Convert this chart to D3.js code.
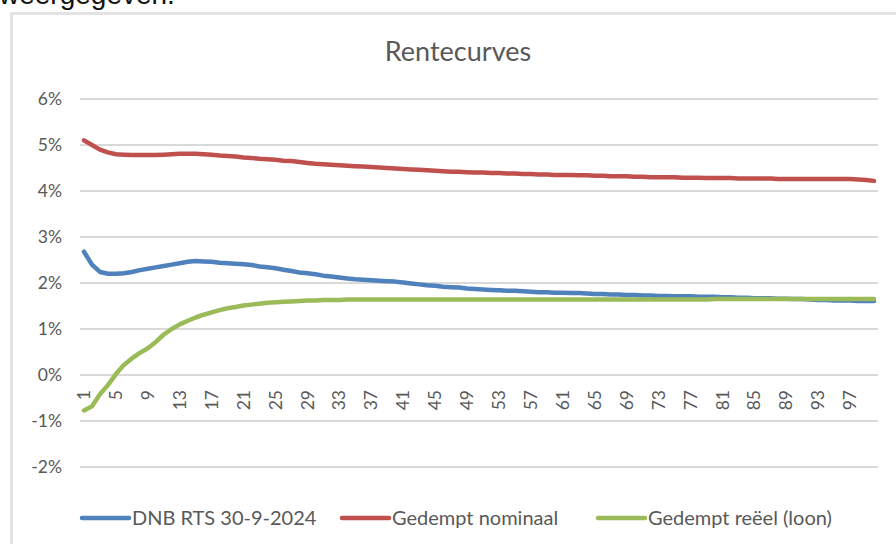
<!DOCTYPE html>
<html>
<head>
<meta charset="utf-8">
<script src="https://cdn.jsdelivr.net/npm/d3@7"></script>
<style>
  html, body { margin: 0; padding: 0; background: #fff; }
  svg { display: block; }
</style>
</head>
<body>
<svg id="chart" width="896" height="544"></svg>
<script>
// looptijden 1..100
const years = d3.range( 1, 101 );
const xTickLabels = years.filter( d => ( d - 1 ) % 4 === 0 );
const yTicks = [ -2, -1, 0, 1, 2, 3, 4, 5, 6 ];

const seriesNames = [ "DNB RTS 30-9-2024", "Gedempt nominaal", "Gedempt reëel (loon)" ];
const seriesColors = [ "#4f81bd", "#c0504d", "#9bbb59" ];

const dnbRts = [
  2.68, 2.40, 2.24, 2.20, 2.20, 2.21, 2.24, 2.28, 2.31, 2.34,
  2.37, 2.40, 2.43, 2.46, 2.48, 2.47, 2.46, 2.44, 2.43, 2.42,
  2.41, 2.39, 2.36, 2.34, 2.32, 2.29, 2.26, 2.23, 2.21, 2.19,
  2.16, 2.14, 2.12, 2.10, 2.08, 2.07, 2.06, 2.05, 2.04, 2.03,
  2.01, 1.99, 1.97, 1.95, 1.94, 1.92, 1.91, 1.90, 1.88, 1.87,
  1.86, 1.85, 1.84, 1.83, 1.83, 1.82, 1.81, 1.80, 1.80, 1.79,
  1.79, 1.78, 1.78, 1.77, 1.76, 1.76, 1.75, 1.75, 1.74, 1.74,
  1.73, 1.73, 1.72, 1.72, 1.71, 1.71, 1.71, 1.70, 1.70, 1.70,
  1.69, 1.69, 1.68, 1.68, 1.67, 1.67, 1.67, 1.66, 1.66, 1.65,
  1.65, 1.64, 1.63, 1.63, 1.62, 1.62, 1.62, 1.61, 1.61, 1.61
];

const gedemptNominaal = [
  5.10, 5.00, 4.90, 4.84, 4.80, 4.79, 4.78, 4.78, 4.78, 4.78,
  4.79, 4.80, 4.81, 4.81, 4.81, 4.80, 4.79, 4.77, 4.76, 4.75,
  4.73, 4.72, 4.70, 4.69, 4.68, 4.66, 4.65, 4.63, 4.61, 4.59,
  4.58, 4.57, 4.56, 4.55, 4.54, 4.53, 4.52, 4.51, 4.50, 4.49,
  4.48, 4.47, 4.46, 4.45, 4.44, 4.43, 4.42, 4.42, 4.41, 4.40,
  4.40, 4.39, 4.39, 4.38, 4.38, 4.37, 4.37, 4.36, 4.36, 4.35,
  4.35, 4.35, 4.34, 4.34, 4.33, 4.33, 4.32, 4.32, 4.32, 4.31,
  4.31, 4.30, 4.30, 4.30, 4.30, 4.29, 4.29, 4.29, 4.28, 4.28,
  4.28, 4.28, 4.27, 4.27, 4.27, 4.27, 4.27, 4.26, 4.26, 4.26,
  4.26, 4.26, 4.26, 4.26, 4.26, 4.26, 4.26, 4.25, 4.24, 4.22
];

const gedemptReeel = [
  -0.77, -0.68, -0.42, -0.22, 0.02, 0.22, 0.36, 0.48, 0.58, 0.72,
  0.88, 1.00, 1.10, 1.18, 1.25, 1.31, 1.36, 1.41, 1.45, 1.48,
  1.51, 1.53, 1.55, 1.57, 1.58, 1.59, 1.60, 1.61, 1.62, 1.62,
  1.63, 1.63, 1.63, 1.64, 1.64, 1.64, 1.64, 1.64, 1.64, 1.64,
  1.64, 1.64, 1.64, 1.64, 1.64, 1.64, 1.64, 1.64, 1.64, 1.64,
  1.64, 1.64, 1.64, 1.64, 1.64, 1.64, 1.64, 1.64, 1.64, 1.64,
  1.64, 1.64, 1.64, 1.64, 1.64, 1.64, 1.64, 1.64, 1.64, 1.64,
  1.64, 1.64, 1.64, 1.64, 1.64, 1.64, 1.64, 1.64, 1.64, 1.65,
  1.65, 1.65, 1.65, 1.65, 1.65, 1.65, 1.65, 1.65, 1.65, 1.65,
  1.65, 1.65, 1.65, 1.65, 1.65, 1.65, 1.65, 1.65, 1.65, 1.65
];

const seriesValues = [ dnbRts, gedemptNominaal, gedemptReeel ];

const svg = d3.select( "#chart" );
const font = "Lato, 'Open Sans', sans-serif";
const grey = "#595959";

// stukje tekst van het document erboven, afgesneden
svg.append( "text" )
    .attr( "x", -1 )
    .attr( "y", 4 )
    .attr( "font-family", "'Liberation Sans', Arial, sans-serif" )
    .attr( "font-size", 28 )
    .attr( "fill", "#111" )
    .text( "weergegeven." );

// kader van de grafiek
svg.append( "rect" )
    .attr( "x", 11.5 )
    .attr( "y", 13.5 )
    .attr( "width", 900 )
    .attr( "height", 560 )
    .attr( "fill", "#fff" )
    .attr( "stroke", "#e3e3e3" )
    .attr( "stroke-width", 3 );

const x = d3.scaleBand()
    .domain( years )
    .range( [ 80, 878 ] );

const y = d3.scaleLinear()
    .domain( [ -2, 6 ] )
    .range( [ 467, 99 ] );

const cx = d => x( d ) + x.bandwidth() / 2;

// gridlijnen
svg.append( "g" )
    .selectAll( "line" )
    .data( yTicks )
    .enter()
    .append( "line" )
    .attr( "x1", 80 )
    .attr( "x2", 878 )
    .attr( "y1", d => Math.round( y( d ) ) )
    .attr( "y2", d => Math.round( y( d ) ) )
    .attr( "stroke", "#d9d9d9" )
    .attr( "stroke-width", 2 );

// y-as labels
const yAxis = d3.axisLeft( y )
    .tickValues( yTicks )
    .tickSize( 0 )
    .tickPadding( 0 )
    .tickFormat( d => d + "%" );

svg.append( "g" )
    .attr( "transform", "translate(62,0)" )
    .call( yAxis )
    .call( g => g.select( ".domain" ).remove() )
    .selectAll( "text" )
    .attr( "font-family", font )
    .attr( "font-size", 17.5 )
    .attr( "fill", grey );

// x-as labels, gedraaid
const xAxis = d3.axisBottom( x )
    .tickValues( xTickLabels )
    .tickSize( 0 )
    .tickPadding( 0 );

svg.append( "g" )
    .attr( "transform", `translate(0,${ y( 0 ) })` )
    .call( xAxis )
    .call( g => g.select( ".domain" ).remove() )
    .selectAll( "text" )
    .attr( "font-family", font )
    .attr( "font-size", 17.5 )
    .attr( "fill", grey )
    .attr( "transform", "rotate(-90)" )
    .attr( "text-anchor", "end" )
    .attr( "x", -15 )
    .attr( "y", 0 )
    .attr( "dy", "0.35em" );

// lijnen
const line = d3.line()
    .x( ( d, i ) => cx( years[ i ] ) )
    .y( d => y( d ) );

svg.append( "g" )
    .selectAll( "path" )
    .data( seriesValues )
    .enter()
    .append( "path" )
    .attr( "d", line )
    .attr( "fill", "none" )
    .attr( "stroke", ( d, i ) => seriesColors[ i ] )
    .attr( "stroke-width", 4.5 )
    .attr( "stroke-linejoin", "round" )
    .attr( "stroke-linecap", "round" );

// titel
svg.append( "text" )
    .attr( "x", 458 )
    .attr( "y", 61 )
    .attr( "text-anchor", "middle" )
    .attr( "font-family", font )
    .attr( "font-size", 27 )
    .attr( "fill", grey )
    .text( "Rentecurves" );

// legenda
const legendX = [ 80, 340, 596 ];
const legend = svg.append( "g" )
    .selectAll( "g" )
    .data( seriesNames )
    .enter()
    .append( "g" )
    .attr( "transform", ( d, i ) => `translate(${ legendX[ i ] },518)` );

legend.append( "line" )
    .attr( "x1", 2 )
    .attr( "x2", 49 )
    .attr( "stroke", ( d, i ) => seriesColors[ i ] )
    .attr( "stroke-width", 4.5 )
    .attr( "stroke-linecap", "round" );

legend.append( "text" )
    .attr( "x", 52 )
    .attr( "dy", "0.35em" )
    .attr( "font-family", font )
    .attr( "font-size", 20 )
    .attr( "fill", grey )
    .text( d => d );
</script>
</body>
</html>
